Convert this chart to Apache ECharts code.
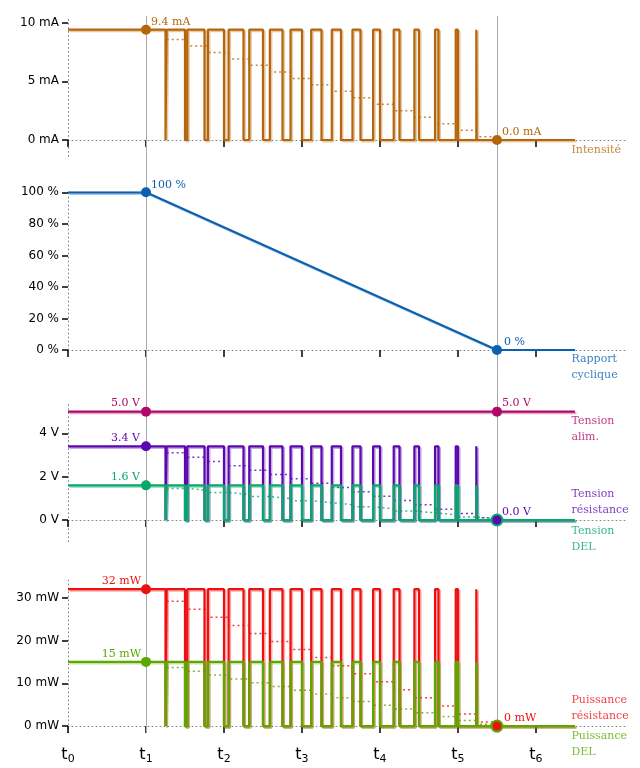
<!DOCTYPE html>
<html><head><meta charset="utf-8">
<script src="https://cdn.jsdelivr.net/npm/echarts@6/dist/echarts.min.js"></script>
<style>html,body{margin:0;padding:0;background:#fff}#c{width:640px;height:768px}</style>
</head><body><div id="c"></div>
<script>
// ---------- data ----------
const tTicks = [0, 1, 2, 3, 4, 5, 6];
const tMarks = [1, 5.5];
const tEnd = 6.5;
// PWM edges (in t units)
const riseT = [1.000, 1.265, 1.529, 1.794, 2.059, 2.324, 2.588, 2.853, 3.118, 3.382, 3.647, 3.912, 4.176, 4.441, 4.706, 4.971, 5.235];
const fallT = [1.25, 1.50, 1.75, 2.00, 2.25, 2.50, 2.75, 3.00, 3.25, 3.50, 3.75, 4.00, 4.25, 4.50, 4.75, 5.00, 5.24];
// intensity
const iPeak = 9.4;
const iAvg = [8.57, 8.02, 7.46, 6.91, 6.36, 5.80, 5.25, 4.70, 4.15, 3.59, 3.04, 2.49, 1.94, 1.38, 0.83, 0.28];
// duty cycle
const dutyT = [0, 1, 5.5, 6.5];
const dutyV = [100, 100, 0, 0];
// voltages
const vAlim = 5.0;
const vRes = 3.4;
const vResAvg = [3.10, 2.90, 2.70, 2.50, 2.30, 2.10, 1.90, 1.70, 1.50, 1.30, 1.10, 0.90, 0.70, 0.50, 0.30, 0.10];
const vDel = 1.6;
const vDelAvg = [1.46, 1.37, 1.27, 1.18, 1.08, 0.99, 0.89, 0.80, 0.71, 0.61, 0.52, 0.42, 0.33, 0.24, 0.14, 0.05];
// powers
const pRes = 32;
const pResAvg = [29.18, 27.29, 25.41, 23.53, 21.65, 19.76, 17.88, 16.00, 14.12, 12.24, 10.35, 8.47, 6.59, 4.71, 2.82, 0.94];
const pDel = 15;
const pDelAvg = [13.68, 12.79, 11.91, 11.03, 10.15, 9.26, 8.38, 7.50, 6.62, 5.74, 4.85, 3.97, 3.09, 2.21, 1.32, 0.44];
// axis ticks
const yTicksI = [0, 5, 10];
const yTicksD = [0, 20, 40, 60, 80, 100];
const yTicksV = [0, 2, 4];
const yTicksP = [0, 10, 20, 30];

// ---------- style ----------
const C = {
  i: '#b5660b', d: '#0b60b0', a: '#b0096a', r: '#5c08b0', g: '#08a86a', pr: '#ee1010', pg: '#5da800'
};
const SERIF = 'DejaVu Serif';
const SANS = 'DejaVu Sans';

function pwm(peak) {
  const d = [[0, peak]];
  for (let n = 0; n < fallT.length; n++) {
    d.push([fallT[n], peak], [fallT[n], 0]);
    if (n + 1 < riseT.length) d.push([riseT[n + 1], 0], [riseT[n + 1], peak]);
  }
  d.push([tEnd, 0]);
  return d;
}
function avgLine(avg) {
  const d = [];
  for (let k = 0; k < avg.length; k++) {
    const a = riseT[k + 1];
    const b = (k + 2 < riseT.length) ? riseT[k + 2] : tMarks[1];
    d.push([a, avg[k]], [b, avg[k]]);
  }
  return d;
}
function hexA(h, a) {
  const r = parseInt(h.slice(1, 3), 16), g = parseInt(h.slice(3, 5), 16), b = parseInt(h.slice(5, 7), 16);
  return `rgba(${r},${g},${b},${a})`;
}
function lineS(gi, data, color, z) {
  return {
    type: 'line', xAxisIndex: gi, yAxisIndex: gi, data, symbol: 'none', z,
    lineStyle: { color, width: 2.2, shadowColor: hexA(color, 0.35), shadowOffsetX: 1.5, shadowOffsetY: 1.5, shadowBlur: 0 },
    silent: true, animation: false
  };
}
function dotS(gi, data, color, z) {
  return {
    type: 'line', xAxisIndex: gi, yAxisIndex: gi, data, symbol: 'none', z,
    lineStyle: { color: hexA(color, 0.8), width: 1.5, type: [2, 3] },
    silent: true, animation: false
  };
}
// point with label; dx,dy = offset of label box relative to point centre
function pt(x, y, size, text, dx, dy, align, valign) {
  return {
    value: [x, y], symbolSize: size,
    label: {
      show: !!text, formatter: text || '',
      position: [size / 2 + dx, size / 2 + dy], align, verticalAlign: valign
    }
  };
}
function ptsS(gi, color, data, z) {
  return {
    type: 'scatter', xAxisIndex: gi, yAxisIndex: gi, data, z,
    itemStyle: { color, opacity: 1 },
    label: { color, fontFamily: SERIF, fontSize: 11 },
    silent: true, animation: false
  };
}
function nameS(gi, y, color, text, dy, valign) {
  return {
    type: 'scatter', xAxisIndex: gi, yAxisIndex: gi, z: 6,
    data: [{ value: [tEnd, y], symbolSize: 0.01 }],
    itemStyle: { color: 'rgba(0,0,0,0)' },
    label: { show: true, formatter: text, position: [-3.5, dy], align: 'left', verticalAlign: valign,
      color, fontFamily: SERIF, fontSize: 11, lineHeight: 16 },
    silent: true, animation: false
  };
}

const L = 68, R = 12, XMAX = 7.18;
const grids = [
  { left: L, right: R, top: 16.8, height: 139.6 },
  { left: L, right: R, top: 192.3, height: 157.7 },
  { left: L, right: R, top: 401.9, height: 139.8 },
  { left: L, right: R, top: 580.2, height: 152.7 },
  { left: L, right: R, top: 16, height: 717 }
];
function xAx(gi, showLabel) {
  return {
    gridIndex: gi, type: 'value', min: 0, max: XMAX, show: gi < 4,
    axisLine: { show: true, onZero: true, lineStyle: { color: '#888', width: 1, type: [1, 3] } },
    axisTick: { show: true, length: 7, customValues: tTicks, lineStyle: { color: '#000', width: 1.5 } },
    axisLabel: {
      show: showLabel, customValues: tTicks, margin: 12,
      formatter: v => '{t|t}{s|' + v + '}',
      rich: {
        t: { fontFamily: SANS, fontSize: 16, color: '#000' },
        s: { fontFamily: SANS, fontSize: 11, color: '#000', padding: [9, 0, 0, 0] }
      }
    },
    splitLine: { show: false }
  };
}
function yAx(gi, min, max, ticks, unit) {
  return {
    gridIndex: gi, type: 'value', min, max, show: gi < 4,
    axisLine: { show: true, onZero: false, lineStyle: { color: '#888', width: 1, type: [1, 3] } },
    axisTick: { show: true, length: 6, customValues: ticks, lineStyle: { color: '#000', width: 1.5 } },
    axisLabel: { customValues: ticks, margin: 9, fontFamily: SANS, fontSize: 12, color: '#000',
      formatter: v => v + ' ' + unit },
    splitLine: { show: false }
  };
}

const series = [
  // vertical reference lines
  {
    type: 'line', xAxisIndex: 4, yAxisIndex: 4, data: [[0, 0]], symbol: 'none', z: 1,
    lineStyle: { opacity: 0 }, silent: true, animation: false,
    markLine: { symbol: 'none', silent: true, animation: false, label: { show: false },
      lineStyle: { color: '#aaa', width: 1, type: 'solid' },
      data: tMarks.map(t => ({ xAxis: t })) }
  },
  // panel 1 : intensity
  dotS(0, avgLine(iAvg), C.i, 2),
  lineS(0, pwm(iPeak), C.i, 3),
  ptsS(0, C.i, [pt(tMarks[0], iPeak, 10, '9.4 mA', 5, -2, 'left', 'bottom'),
                pt(tMarks[1], 0, 10, '0.0 mA', 5, -2, 'left', 'bottom')], 5),
  nameS(0, 0, C.i, 'Intensité', 2, 'top'),
  // panel 2 : duty cycle
  lineS(1, dutyT.map((t, k) => [t, dutyV[k]]), C.d, 3),
  ptsS(1, C.d, [pt(tMarks[0], 100, 10, '100 %', 5, -2, 'left', 'bottom'),
                pt(tMarks[1], 0, 10, '0 %', 7, -2, 'left', 'bottom')], 5),
  nameS(1, 0, C.d, 'Rapport\ncyclique', 1, 'top'),
  // panel 3 : voltages
  lineS(2, [[0, vAlim], [tEnd, vAlim]], C.a, 3),
  dotS(2, avgLine(vResAvg), C.r, 2),
  dotS(2, avgLine(vDelAvg), C.g, 2),
  lineS(2, pwm(vRes), C.r, 3),
  lineS(2, pwm(vDel), C.g, 4),
  ptsS(2, C.a, [pt(tMarks[0], vAlim, 10, '5.0 V', -6, -3, 'right', 'bottom'),
                pt(tMarks[1], vAlim, 10, '5.0 V', 5, -3, 'left', 'bottom')], 5),
  ptsS(2, C.g, [pt(tMarks[0], vDel, 10, '1.6 V', -6, -3, 'right', 'bottom'),
                pt(tMarks[1], 0, 13, '', 0, 0, 'left', 'bottom')], 5),
  ptsS(2, C.r, [pt(tMarks[0], vRes, 10, '3.4 V', -6, -3, 'right', 'bottom'),
                pt(tMarks[1], 0, 9, '0.0 V', 5, -2, 'left', 'bottom')], 6),
  nameS(2, vAlim, C.a, 'Tension\nalim.', 1, 'top'),
  nameS(2, 0, C.r, 'Tension\nrésistance', -2, 'bottom'),
  nameS(2, 0, C.g, 'Tension\nDEL', 3, 'top'),
  // panel 4 : powers
  dotS(3, avgLine(pResAvg), C.pr, 2),
  dotS(3, avgLine(pDelAvg), C.pg, 2),
  lineS(3, pwm(pRes), C.pr, 3),
  lineS(3, pwm(pDel), C.pg, 4),
  ptsS(3, C.pg, [pt(tMarks[0], pDel, 10, '15 mW', -5, -2, 'right', 'bottom'),
                 pt(tMarks[1], 0, 13, '', 0, 0, 'left', 'bottom')], 5),
  ptsS(3, C.pr, [pt(tMarks[0], pRes, 10, '32 mW', -5, -3, 'right', 'bottom'),
                 pt(tMarks[1], 0, 9, '0 mW', 7, -2, 'left', 'bottom')], 6),
  nameS(3, 0, C.pr, 'Puissance\nrésistance', -2, 'bottom'),
  nameS(3, 0, C.pg, 'Puissance\nDEL', 2, 'top')
];

const chart = echarts.init(document.getElementById('c'), null, { renderer: 'canvas' });
chart.setOption({
  animation: false,
  backgroundColor: '#fff',
  grid: grids,
  xAxis: [xAx(0, false), xAx(1, false), xAx(2, false), xAx(3, true), xAx(4, false)],
  yAxis: [
    yAx(0, -1.4, 10.5, yTicksI, 'mA'),
    yAx(1, 0, 100, yTicksD, '%'),
    yAx(2, -1, 5.45, yTicksV, 'V'),
    yAx(3, -1.6, 34.1, yTicksP, 'mW'),
    { gridIndex: 4, type: 'value', min: 0, max: 1, show: false }
  ],
  series
});
</script></body></html>
